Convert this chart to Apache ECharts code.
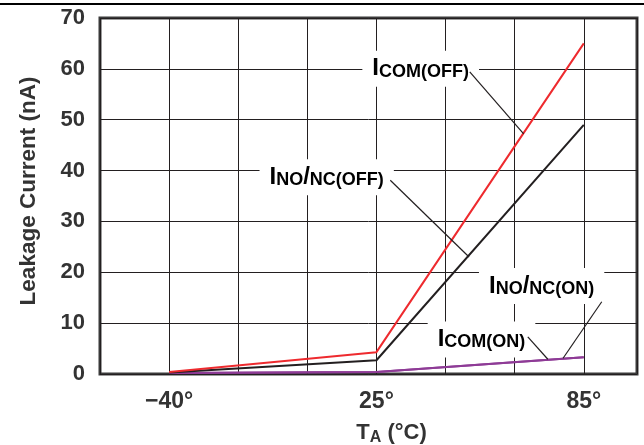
<!DOCTYPE html>
<html><head><meta charset="utf-8">
<script src="https://cdn.jsdelivr.net/npm/echarts/dist/echarts.min.js"></script>
<style>html,body{margin:0;padding:0;background:#fff}#c{width:644px;height:445px}</style>
</head><body><div id="c"></div>
<script>
// ---- data ----
const tempLabels = ['\u221240\u00b0', '25\u00b0', '85\u00b0'];
const tempTick = [0, 3, 6];            // x-axis tick index of each temperature
const iComOff = [0.4, 4.3, 65];
const iNoNcOff = [0.3, 2.7, 49];
const iComOn = [0.2, 0.4, 3.3];
const iNoNcOn = [0.2, 0.4, 3.3];
const yTicks = [0, 10, 20, 30, 40, 50, 60, 70];
const labelTexts = ['{i|I}{s|COM(OFF)}', '{i|I}{s|NO}{i|/}{s|NC(OFF)}', '{i|I}{s|NO}{i|/}{s|NC(ON)}', '{i|I}{s|COM(ON)}'];
// annotation anchors in data space: label centre, leader start, leader end
const labelAt = [[3.64, 60.0], [2.28, 38.7], [5.39, 17.3], [4.52, 6.8]];
const leaderFrom = [[4.35, 59.4], [3.20, 38.1], [6.26, 14.2], [5.19, 7.3]];
const leaderTo = [[5.13, 47.2], [4.34, 23.0], [5.70, 3.1], [5.48, 2.9]];

const FONT = 'Liberation Sans, Arial, sans-serif';
const TXT = '#333333';
const pts = v => tempTick.map((x, i) => [x, v[i]]);

const chart = echarts.init(document.getElementById('c'), null, {renderer: 'canvas'});
const option = {
  animation: false,
  backgroundColor: '#fff',
  grid: {left: 100, top: 18, right: 7, bottom: 71, show: true, borderColor: '#3a3a3a', borderWidth: 3,
    backgroundColor: 'transparent', containLabel: false, outerBoundsMode: 'none'},
  xAxis: {
    type: 'value', min: -1, max: 6.77, interval: 1,
    axisLine: {show: false}, axisTick: {show: false},
    splitLine: {show: true, lineStyle: {color: '#231f20', width: 1}},
    axisLabel: {
      margin: 16, fontFamily: FONT, fontWeight: 'bold', fontSize: 23, color: TXT,
      showMaxLabel: false,
      formatter: v => { const k = tempTick.indexOf(Math.round(v * 100) / 100); return k >= 0 ? tempLabels[k] : ''; }
    },
    name: '{t|T}{s|A}{t| (\u00b0C)}', nameLocation: 'middle', nameGap: 37,
    nameTextStyle: {padding: [0, 0, 0, 46], rich: {
      t: {fontFamily: FONT, fontWeight: 'bold', fontSize: 22, color: TXT, verticalAlign: 'top', lineHeight: 24},
      s: {fontFamily: FONT, fontWeight: 'bold', fontSize: 16, color: TXT, verticalAlign: 'bottom', lineHeight: 16, padding: [12, 0, 0, 0]}
    }}
  },
  yAxis: {
    type: 'value', min: 0, max: 70, interval: 10,
    axisLine: {show: false}, axisTick: {show: false},
    splitLine: {show: true, lineStyle: {color: '#231f20', width: 1}},
    axisLabel: {margin: 15, fontFamily: FONT, fontWeight: 'bold', fontSize: 22, color: TXT,
      formatter: v => yTicks.includes(v) ? String(v) : ''},
    name: 'Leakage Current (nA)', nameLocation: 'middle', nameGap: 60, nameRotate: 90,
    nameTextStyle: {fontFamily: FONT, fontWeight: 'bold', fontSize: 22.5, color: TXT, padding: [0, 0, 0, 10]}
  },
  series: [
    {name: 'ICOM(OFF)', type: 'line', data: pts(iComOff), symbol: 'none', lineStyle: {color: '#ee2a2e', width: 2}, z: 5},
    {name: 'INO/NC(OFF)', type: 'line', data: pts(iNoNcOff), symbol: 'none', lineStyle: {color: '#231f20', width: 2}, z: 4},
    {name: 'INO/NC(ON)', type: 'line', data: pts(iNoNcOn), symbol: 'none', lineStyle: {color: '#8e3b96', width: 2}, z: 3},
    {name: 'ICOM(ON)', type: 'line', data: pts(iComOn), symbol: 'none', lineStyle: {color: '#8e3b96', width: 2}, z: 3}
  ]
};
chart.setOption(option);

const rich = {
  i: {fontFamily: FONT, fontWeight: 'bold', fontSize: 24, color: TXT, verticalAlign: 'top', lineHeight: 24},
  s: {fontFamily: FONT, fontWeight: 'bold', fontSize: 18, color: TXT, verticalAlign: 'bottom', lineHeight: 17, padding: [12, 0, 0, 0]}
};
const px = p => chart.convertToPixel({gridIndex: 0}, p);
const graphics = [
  {type: 'line', shape: {x1: 0, y1: 4, x2: 644, y2: 4}, style: {stroke: '#000', lineWidth: 2}, z: 100}
];
labelTexts.forEach((t, k) => {
  const a = px(labelAt[k]), f = px(leaderFrom[k]), e = px(leaderTo[k]);
  graphics.push({type: 'text', x: a[0], y: a[1], z: 100,
    style: {text: t, rich: rich, align: 'center', verticalAlign: 'middle', backgroundColor: '#fff', padding: [6, 10, 6, 10]}});
  graphics.push({type: 'line', z: 101, shape: {x1: f[0], y1: f[1], x2: e[0], y2: e[1]}, style: {stroke: '#231f20', lineWidth: 1.2}});
});
chart.setOption({graphic: graphics});
</script></body></html>
